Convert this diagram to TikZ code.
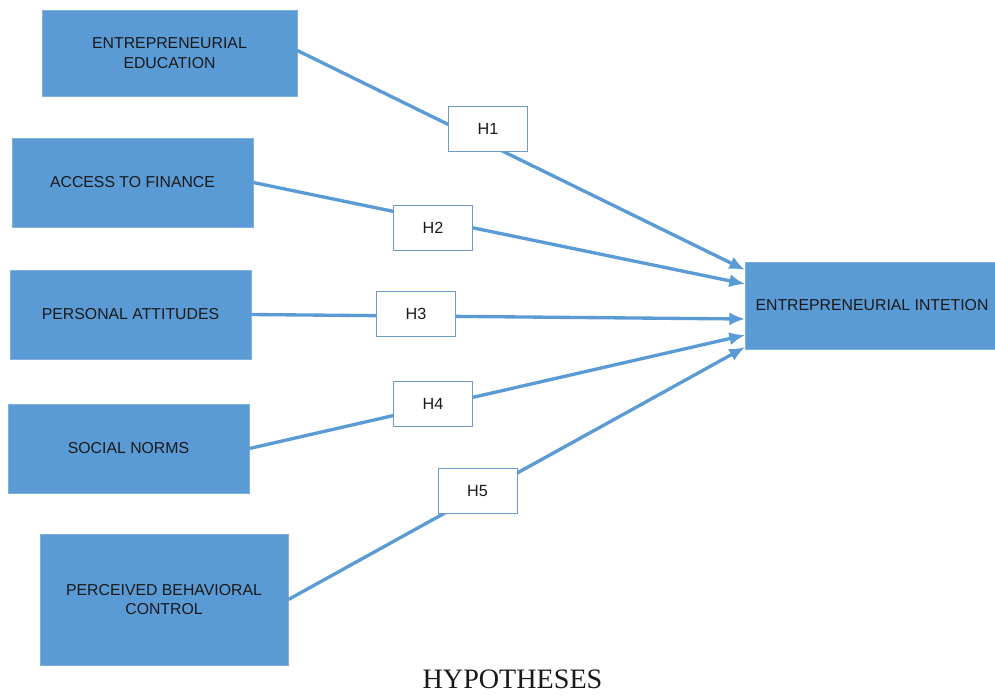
\documentclass[tikz,border=0pt]{standalone}
\usepackage{fontspec}
\setmainfont{Liberation Sans}
\newfontfamily\titlefont{Liberation Serif}
\usepackage{xcolor}
\usepackage{tikz}
\usetikzlibrary{arrows.meta}
\definecolor{boxblue}{HTML}{5B9BD5}
\definecolor{boxedge}{HTML}{7FB0DE}
\definecolor{hedge}{HTML}{6D98CB}
\tikzset{
  factor/.style = {draw = boxedge, fill = boxblue, line width = .4pt, align = center,
    font = \fontsize{9}{11.2}\selectfont, text = black!90},
  hyp/.style = {draw = hedge, fill = white, line width = .5pt, minimum width = 1.58cm,
    minimum height = .9cm, font = \fontsize{9.2}{11}\selectfont, text = black!90},
  link/.style = {boxblue, line width = 1.9pt, -{Latex[length=9pt, width=7.5pt]}}
}

\begin{document}
\begin{tikzpicture}
\useasboundingbox (0, 0) rectangle (19.9, -13.9);

\node [factor, minimum width = 5.1cm, minimum height = 1.72cm] (edu) at (3.39, -1.06) {ENTREPRENEURIAL\\EDUCATION};
\node [factor, minimum width = 4.82cm, minimum height = 1.78cm] (fin) at (2.65, -3.65) {ACCESS TO FINANCE};
\node [factor, minimum width = 4.82cm, minimum height = 1.78cm] (att) at (2.61, -6.29) {PERSONAL ATTITUDES};
\node [factor, minimum width = 4.82cm, minimum height = 1.78cm] (norm) at (2.57, -8.97) {SOCIAL NORMS};
\node [factor, minimum width = 4.96cm, minimum height = 2.62cm] (pbc) at (3.28, -11.99) {PERCEIVED BEHAVIORAL\\CONTROL};
\node [factor, minimum width = 5.06cm, minimum height = 1.74cm] (ei) at (17.44, -6.11) {ENTREPRENEURIAL INTETION};

\draw [link] ([yshift = .05cm]edu.east) -- ([yshift = .71cm]ei.west);
\draw [link] (fin.east) -- ([yshift = .43cm]ei.west);
\draw [link] (att.east) -- ([yshift = -.27cm]ei.west);
\draw [link] (norm.east) -- ([yshift = -.59cm]ei.west);
\draw [link] (pbc.east) -- ([yshift = -.83cm]ei.west);

\node [hyp] (h1) at (9.76, -2.58) {H1};
\node [hyp] (h2) at (8.66, -4.56) {H2};
\node [hyp] (h3) at (8.32, -6.27) {H3};
\node [hyp] (h4) at (8.66, -8.07) {H4};
\node [hyp] (h5) at (9.55, -9.81) {H5};

\node [font = \titlefont\fontsize{16}{18}\selectfont, text = black!90] (title) at (10.25, -13.58) {HYPOTHESES};
\end{tikzpicture}
\end{document}
